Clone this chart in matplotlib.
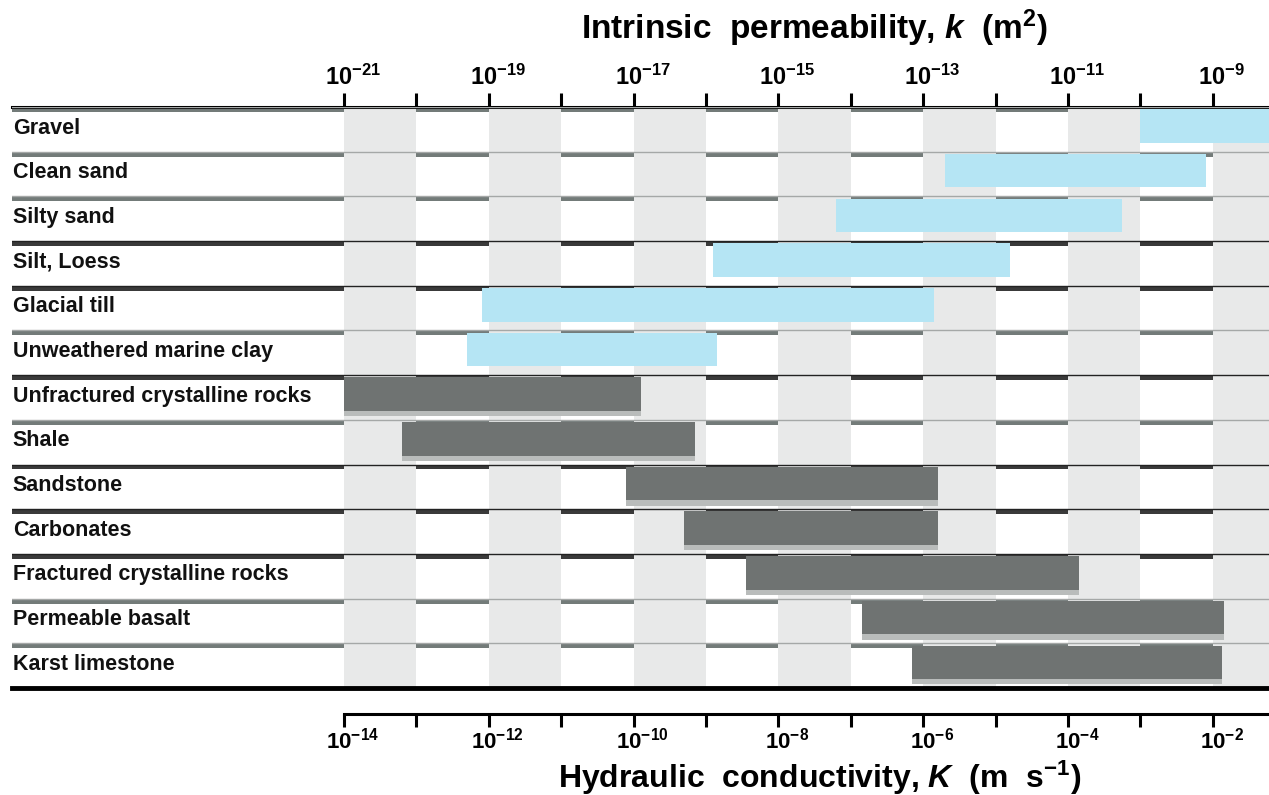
import numpy as np
import matplotlib
matplotlib.use('Agg')
import matplotlib.pyplot as plt
from matplotlib.ticker import NullLocator
from matplotlib.transforms import ScaledTranslation

# Data: ranges of intrinsic permeability, log10 k (m^2)
materials = ['Gravel', 'Clean sand', 'Silty sand', 'Silt, Loess', 'Glacial till',
             'Unweathered marine clay', 'Unfractured crystalline rocks', 'Shale',
             'Sandstone', 'Carbonates', 'Fractured crystalline rocks',
             'Permeable basalt', 'Karst limestone']
log_k_low = [-10.0, -12.7, -14.2, -15.9, -19.1, -19.3, -21.0, -20.2,
             -17.1, -16.3, -15.45, -13.85, -13.15]
log_k_high = [-7.0, -9.1, -10.25, -11.8, -12.85, -15.85, -16.9, -16.15,
              -12.8, -12.8, -10.85, -8.85, -8.87]
kind = ['sediment'] * 6 + ['rock'] * 7
top_exponents = list(range(-21, -8))      # k ticks, m^2
k_to_K = 1e7                              # K (m/s) ~ k (m^2) * rho g / mu for water
sep_style = ['gray', 'gray', 'gray', 'dark', 'dark', 'gray', 'dark', 'gray',
             'dark', 'dark', 'dark', 'gray', 'gray']

plt.rcParams['mathtext.fontset'] = 'custom'
plt.rcParams['mathtext.rm'] = 'Liberation Sans:bold'
plt.rcParams['mathtext.bf'] = 'Liberation Sans:bold'
plt.rcParams['mathtext.it'] = 'Liberation Sans:italic:bold'
plt.rcParams['font.family'] = ['Liberation Sans', 'DejaVu Sans']

# Layout in pixels
W, H = 1269, 795
left_px, origin_px, dec_px = 12, 344, 72.4
top_px, bot_px = 107, 688
xmin = -21 - (origin_px - left_px) / dec_px
xmax = -21 + (W - origin_px) / dec_px

fig = plt.figure(figsize=(W / 100, H / 100), dpi=100)
ax = fig.add_axes([left_px / W, 1 - bot_px / H, 1 - left_px / W, (bot_px - top_px) / H])
ax.set_xscale('log')
ax.set_xlim(10 ** xmin, 10 ** xmax)
n = len(materials)
ax.set_ylim(n, 0)

blue = '#b5e5f4'
dark = '#6f7372'
shadow = '#b9bcbb'
col_gray = '#e8e9e9'

# row separator bands (hidden by the gray columns)
for i, st in enumerate(sep_style):
    band_c = '#3a3a3a' if st == 'dark' else '#737b79'
    ax.axhspan(i, i + 0.11, color=band_c, lw=0, zorder=1)
    line_c = '#222222' if st == 'dark' else '#a5a8a7'
    ax.axhline(i, color=line_c, lw=1.0, zorder=3)

# gray columns
for e in range(-21, int(np.ceil(xmax)), 2):
    ax.axvspan(10.0 ** e, 10.0 ** (e + 1), color=col_gray, lw=0, zorder=2)

# range bars
lo = 10.0 ** np.array(log_k_low)
hi = 10.0 ** np.array(log_k_high)
rows = np.arange(n)
for r, a, b, kd in zip(rows, lo, hi, kind):
    c = blue if kd == 'sediment' else dark
    ax.barh(r + 0.05, b - a, left=a, height=0.75, align='edge', color=c, lw=0, zorder=4)
    if kd == 'rock':
        ax.barh(r + 0.80, b - a, left=a, height=0.12, align='edge', color=shadow, lw=0, zorder=4)

ax.axhline(n, color='black', lw=3.5, zorder=5, clip_on=False)

# row labels
for r, name in zip(rows, materials):
    ax.text(10 ** (xmin + 0.01), r + 0.47, name, ha='left', va='center',
            fontsize=15.5, fontweight='bold', color='#111111', clip_on=False)

# top axis: intrinsic permeability
for s in ['left', 'right', 'bottom']:
    ax.spines[s].set_visible(False)
ax.spines['top'].set_linewidth(2.2)
ax.set_yticks([])
ax.xaxis.set_minor_locator(NullLocator())
ax.set_xticks([10.0 ** e for e in top_exponents])
ax.set_xticklabels([r'$\mathregular{10^{%d}}$' % e if e % 2 else '' for e in top_exponents])
ax.tick_params(axis='x', which='major', top=True, labeltop=True, bottom=False,
               labelbottom=False, direction='out', length=10, width=2.2, pad=2,
               labelsize=17)
shift = ScaledTranslation(9 / 100, 0, fig.dpi_scale_trans)
for lab in ax.get_xticklabels(which='major'):
    lab.set_transform(lab.get_transform() + shift)
    lab.set_fontweight('bold')

# bottom axis: hydraulic conductivity
axb = fig.add_axes([origin_px / W, 1 - 714 / H, 1 - origin_px / W, 0.0001])
axb.set_xscale('log')
axb.set_xlim(10.0 ** -21 * k_to_K, 10 ** xmax * k_to_K)
for s in ['left', 'right', 'top']:
    axb.spines[s].set_visible(False)
axb.spines['bottom'].set_linewidth(2.2)
axb.set_yticks([])
axb.xaxis.set_minor_locator(NullLocator())
bot_exponents = [e + int(np.log10(k_to_K)) for e in top_exponents]
axb.set_xticks([10.0 ** e for e in bot_exponents])
axb.set_xticklabels([r'$\mathregular{10^{%d}}$' % e if e % 2 == 0 else '' for e in bot_exponents])
axb.tick_params(axis='x', which='major', direction='out', length=9, width=2.2, pad=1,
                labelsize=16)
for lab in axb.get_xticklabels(which='major'):
    lab.set_transform(lab.get_transform() + shift)
    lab.set_fontweight('bold')

fig.text(815 / W, 1 - 28 / H, r'Intrinsic  permeability, $k$  (m$^2$)',
         ha='center', va='center', fontsize=24, fontweight='bold')
fig.text(820 / W, 1 - 778 / H, r'Hydraulic  conductivity, $K$  (m  s$^{-1}$)',
         ha='center', va='center', fontsize=23, fontweight='bold')

fig.savefig('out.png', dpi=100)
